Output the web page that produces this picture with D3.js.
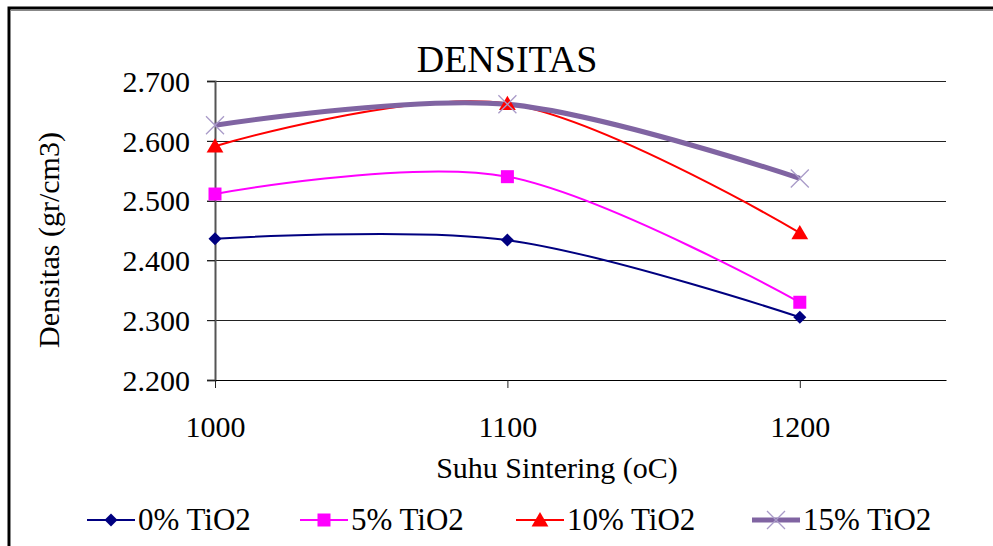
<!DOCTYPE html>
<html>
<head>
<meta charset="utf-8">
<script src="https://cdn.jsdelivr.net/npm/d3@7"></script>
<style>
  body { margin: 0; background: #fff; }
</style>
</head>
<body>
<div class="chart"></div>
<script>
// data
var temps = [1000, 1100, 1200];
var xTicks = [1000, 1100, 1200];
var yTicks = [2.2, 2.3, 2.4, 2.5, 2.6, 2.7];
var seriesNames = ["0% TiO2", "5% TiO2", "10% TiO2", "15% TiO2"];
var tio2_0 = [2.436, 2.434, 2.305];
var tio2_5 = [2.511, 2.540, 2.330];
var tio2_10 = [2.591, 2.662, 2.446];
var tio2_15 = [2.626, 2.661, 2.537];

var width = 993, height = 546;
var serif = "'Liberation Serif', 'Times New Roman', Times, 'DejaVu Serif', serif";

// custom marker shapes for d3.symbol (size = half width)
var diamondSym = {
    draw: function (ctx, r) {
        ctx.moveTo(0, -r); ctx.lineTo(r, 0); ctx.lineTo(0, r); ctx.lineTo(-r, 0); ctx.closePath();
    }
};
var squareSym = {
    draw: function (ctx, r) { ctx.rect(-r, -r, 2 * r, 2 * r); }
};
var triangleSym = {
    draw: function (ctx, r) {
        ctx.moveTo(0, -r); ctx.lineTo(r * 1.05, r * 0.8); ctx.lineTo(-r * 1.05, r * 0.8); ctx.closePath();
    }
};
var xSym = {
    draw: function (ctx, r) {
        ctx.moveTo(-r, -r); ctx.lineTo(r, r); ctx.moveTo(r, -r); ctx.lineTo(-r, r);
    }
};

var series = [
    { name: seriesNames[0], values: tio2_0, color: "#000080", lw: 2, sym: diamondSym, r: 6.5, fill: "#000080", stroke: "none" },
    { name: seriesNames[1], values: tio2_5, color: "#ff00ff", lw: 2, sym: squareSym, r: 6.5, fill: "#ff00ff", stroke: "none" },
    { name: seriesNames[2], values: tio2_10, color: "#ff0000", lw: 2, sym: triangleSym, r: 8, fill: "#ff0000", stroke: "none" },
    { name: seriesNames[3], values: tio2_15, color: "#8064a2", lw: 5, sym: xSym, r: 9, fill: "none", stroke: "#a99bc8" }
];

var svg = d3.select(".chart")
    .append("svg")
    .attr("width", width)
    .attr("height", height)
    .style("font-family", serif);

// outer frame (only left and top edges visible)
svg.append("rect")
    .attr("x", 9).attr("y", 8)
    .attr("width", width + 20).attr("height", height + 20)
    .attr("fill", "none")
    .attr("stroke", "#000")
    .attr("stroke-width", 3);
svg.append("path")
    .attr("d", "M10.5," + height + "V10.5H" + width)
    .attr("fill", "none")
    .attr("stroke", "#888")
    .attr("stroke-width", 1);

var x = d3.scaleLinear().domain([1000, 1250]).range([215, 946]);
var y = d3.scaleLinear().domain([2.2, 2.7]).range([380, 81]);

// gridlines
svg.append("g")
    .selectAll("line")
    .data(yTicks)
    .enter()
    .append("line")
    .attr("x1", 207).attr("x2", 946)
    .attr("y1", function (d) { return Math.round(y(d)) + 0.5; })
    .attr("y2", function (d) { return Math.round(y(d)) + 0.5; })
    .attr("stroke", function (d) { return d === 2.2 ? "#000" : "#222"; })
    .attr("stroke-width", 1.2);

// y axis
var yAxis = svg.append("g")
    .attr("transform", "translate(215,0)")
    .call(d3.axisLeft(y).tickValues(yTicks).tickSize(8).tickPadding(17).tickFormat(d3.format(".3f")));
yAxis.attr("font-family", null).attr("font-size", null);
yAxis.select(".domain").attr("stroke", "#555").attr("stroke-width", 2);
yAxis.selectAll(".tick line").attr("stroke", "#222");
yAxis.selectAll("text").style("font-family", serif).style("font-size", "30px").attr("dy", "0.34em");

// x axis
var xAxis = svg.append("g")
    .attr("transform", "translate(0,380)")
    .call(d3.axisBottom(x).tickValues(xTicks).tickSize(8).tickSizeOuter(0).tickPadding(28).tickFormat(d3.format("d")));
xAxis.attr("font-family", null).attr("font-size", null);
xAxis.select(".domain").attr("stroke", "#000").attr("stroke-width", 1.2);
xAxis.selectAll(".tick line").attr("stroke", "#222");
xAxis.selectAll("text").style("font-family", serif).style("font-size", "30px").attr("dy", "0.71em");

// titles
svg.append("text")
    .attr("x", 507).attr("y", 72)
    .attr("text-anchor", "middle")
    .style("font-family", serif)
    .style("font-size", "38px")
    .text("DENSITAS");

svg.append("text")
    .attr("x", 557).attr("y", 478)
    .attr("text-anchor", "middle")
    .style("font-family", serif)
    .style("font-size", "30px")
    .text("Suhu Sintering (oC)");

svg.append("text")
    .attr("transform", "translate(59,240) rotate(-90)")
    .attr("text-anchor", "middle")
    .style("font-family", serif)
    .style("font-size", "30px")
    .text("Densitas (gr/cm3)");

// smoothed lines
var line = d3.line()
    .x(function (d, i) { return x(temps[i]); })
    .y(function (d) { return y(d); })
    .curve(d3.curveCardinal.tension(0));

svg.append("g")
    .selectAll("path")
    .data(series)
    .enter()
    .append("path")
    .attr("d", function (s) { return line(s.values); })
    .attr("fill", "none")
    .attr("stroke", function (s) { return s.color; })
    .attr("stroke-width", function (s) { return s.lw; });

// markers
series.forEach(function (s) {
    svg.append("g")
        .selectAll("path")
        .data(s.values)
        .enter()
        .append("path")
        .attr("transform", function (d, i) { return "translate(" + x(temps[i]) + "," + y(d) + ")"; })
        .attr("d", d3.symbol().type(s.sym).size(s.r))
        .attr("fill", s.fill)
        .attr("stroke", s.stroke)
        .attr("stroke-width", 1.3);
});

// legend
var legendX = [87, 300, 516, 752];
var legend = svg.selectAll(".legend")
    .data(series)
    .enter()
    .append("g")
    .attr("class", "legend")
    .attr("transform", function (s, i) { return "translate(" + legendX[i] + ",520)"; });

legend.append("line")
    .attr("x1", 0).attr("x2", 48)
    .attr("stroke", function (s) { return s.color; })
    .attr("stroke-width", function (s) { return s.lw; });

legend.append("path")
    .attr("transform", "translate(24,0)")
    .attr("d", function (s) { return d3.symbol().type(s.sym).size(s.r)(); })
    .attr("fill", function (s) { return s.fill; })
    .attr("stroke", function (s) { return s.stroke; })
    .attr("stroke-width", 1.3);

legend.append("text")
    .attr("x", 51)
    .attr("y", 10)
    .style("font-family", serif)
    .style("font-size", "31px")
    .text(function (s) { return s.name; });
</script>
</body>
</html>
